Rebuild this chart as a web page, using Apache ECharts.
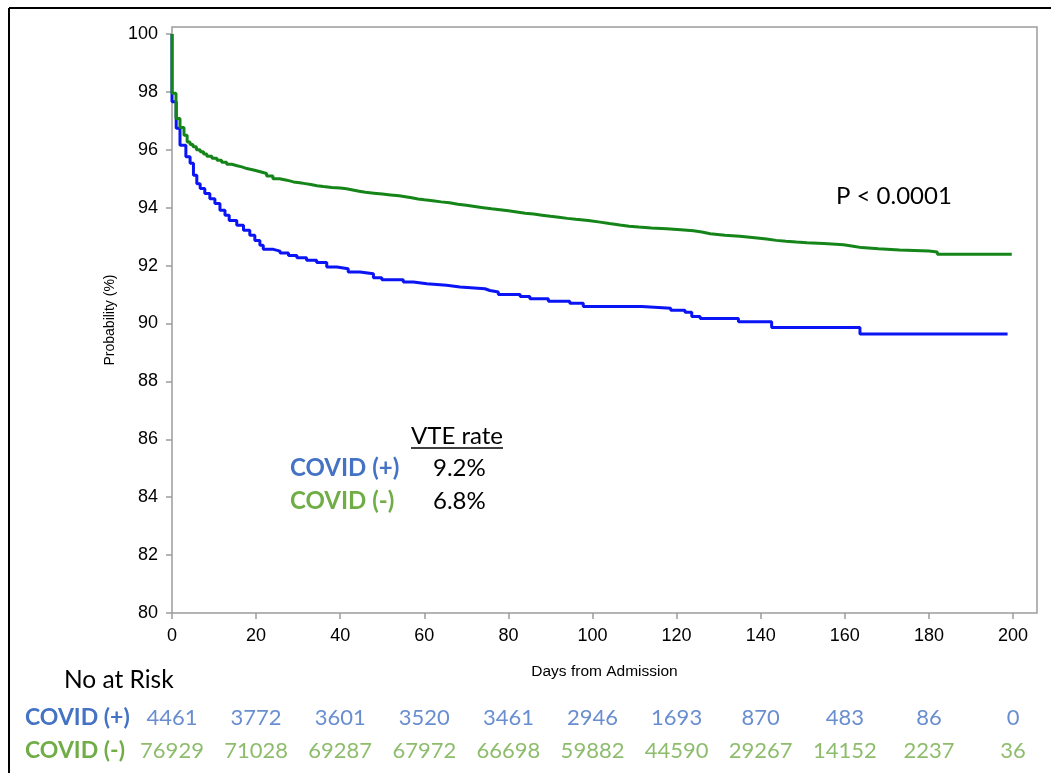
<!DOCTYPE html>
<html><head><meta charset="utf-8">
<script src="https://cdn.jsdelivr.net/npm/echarts@6/dist/echarts.min.js"></script>
<style>html,body{margin:0;padding:0;background:#fff}#c{width:1051px;height:773px}</style>
</head><body><div id="c"></div>
<script>
// ---- data ----
const xTicks = [0, 20, 40, 60, 80, 100, 120, 140, 160, 180, 200];
const yTicks = [80, 82, 84, 86, 88, 90, 92, 94, 96, 98, 100];
const groups = ['COVID (+)', 'COVID (-)'];
const vteRates = ['9.2%', '6.8%'];
const pValue = 'P < 0.0001';

// Kaplan-Meier curves: [day, survival %]
const covidPos = [
  [0,100],[0,97.66],[1.0,96.74],[1.9,96.16],[3.3,95.76],[4.3,95.53],[5.1,95.12],[5.9,94.83],
  [6.7,94.66],[7.8,94.49],[9.0,94.31],[10.2,94.14],[11.4,93.91],[12.6,93.74],[13.6,93.56],
  [15.4,93.39],[17.0,93.22],[18.5,93.05],[19.7,92.87],[20.9,92.7],[21.7,92.56],[24.1,92.5],
  [25.7,92.43],[27.7,92.35],[29.7,92.27],[32.0,92.18],[34.4,92.11],[36.8,91.95],[39.2,91.89],
  [41.9,91.78],[44.7,91.72],[47.9,91.58],[49.9,91.51],[55.0,91.43],[57.4,91.37],[60.6,91.32],
  [65.3,91.26],[68.5,91.2],[74.4,91.14],[75.6,91.09],[77.6,91.0],[82.8,90.93],[85.1,90.85],
  [89.5,90.77],[94.6,90.7],[97.8,90.59],[111.7,90.53],[118.6,90.46],[122.0,90.39],[123.6,90.24],
  [125.6,90.17],[134.7,90.06],[142.6,89.86],[163.6,89.64],[198.7,89.64]
];
const covidNeg = [
  [0,100],[0,97.95],[0.95,97.08],[1.9,96.77],[2.85,96.5],[3.6,96.27],[4.3,96.18],[5,96.1],
  [5.8,96.0],[6.7,95.93],[7.5,95.85],[8.3,95.78],[9.5,95.71],[10.7,95.64],[11.8,95.57],[13,95.5],
  [14.2,95.45],[15.5,95.41],[16.6,95.35],[17.8,95.3],[19.4,95.24],[21,95.18],[22.5,95.09],[24,95.0],
  [25.6,94.95],[27.3,94.89],[28.9,94.86],[30.4,94.83],[31.7,94.8],[33,94.76],[34.5,94.73],[36,94.7],
  [38,94.68],[40,94.65],[41.5,94.61],[43,94.57],[44.5,94.53],[46,94.5],[48,94.47],[50,94.44],
  [52,94.41],[54,94.38],[55.5,94.34],[57,94.3],[58.5,94.27],[60,94.24],[62,94.2],[64,94.17],
  [66,94.12],[68,94.08],[70,94.04],[72,94.0],[74,93.96],[76,93.93],[78,93.89],[80,93.85],
  [82,93.81],[84,93.78],[86,93.74],[88,93.7],[90,93.67],[92,93.63],[94,93.6],[96,93.56],
  [99,93.5],[101.8,93.45],[104,93.4],[106.5,93.36],[108.7,93.33],[111,93.3],[114,93.27],[117.6,93.24],
  [121,93.2],[124,93.16],[126,93.1],[128,93.05],[131.5,93.01],[135,92.97],[138,92.92],[141.4,92.87],
  [143.7,92.84],[146,92.81],[148.5,92.79],[151,92.76],[155,92.72],[159.7,92.67],[162,92.62],[164,92.58],
  [168,92.54],[173,92.5],[180,92.47],[182,92.39],[199.7,92.39]
];

// Number at risk
const riskDays = [0, 20, 40, 60, 80, 100, 120, 140, 160, 180, 200];
const riskPos = [4461, 3772, 3601, 3520, 3461, 2946, 1693, 870, 483, 86, 0];
const riskNeg = [76929, 71028, 69287, 67972, 66698, 59882, 44590, 29267, 14152, 2237, 36];

// ---- styles ----
const BLUE_TXT = '#4472C4', GREEN_TXT = '#70AD47';
const AX = 'Liberation Sans, Arial, sans-serif';
const CAL = 'Lato, sans-serif';
const X_MAX = 205.7, Y_MAX = 100.24;

const chart = echarts.init(document.getElementById('c'), null, {renderer: 'canvas'});

function riskData(vals, row) {
  return vals.map((v, i) => ({value: [riskDays[i], row], label: {formatter: String(v)}}));
}

chart.setOption({
  animation: false,
  backgroundColor: '#fff',
  grid: [
    {left: 172, right: 14, top: 27, bottom: 160, show: true, borderColor: '#9c9c9c', borderWidth: 1.5},
    {left: 172, right: 14, top: 701, height: 66}
  ],
  xAxis: [
    {
      type: 'value', gridIndex: 0, min: 0, max: X_MAX,
      name: 'Days from Admission', nameLocation: 'middle', nameGap: 51,
      nameTextStyle: {fontFamily: AX, fontSize: 15.5, color: '#000'},
      axisLine: {show: false},
      axisTick: {show: true, length: 6, customValues: xTicks, lineStyle: {color: '#9c9c9c', width: 1.5}},
      axisLabel: {customValues: xTicks, margin: 14, fontFamily: AX, fontSize: 18, color: '#000'},
      splitLine: {show: false}
    },
    {type: 'value', gridIndex: 1, min: 0, max: X_MAX, show: false}
  ],
  yAxis: [
    {
      type: 'value', gridIndex: 0, min: 80, max: Y_MAX,
      name: 'Probability (%)', nameLocation: 'middle', nameGap: 52, nameRotate: 90,
      nameTextStyle: {fontFamily: AX, fontSize: 14, color: '#000'},
      axisLine: {show: false},
      axisTick: {show: true, length: 6, customValues: yTicks, lineStyle: {color: '#9c9c9c', width: 1.5}},
      axisLabel: {customValues: yTicks, margin: 14, fontFamily: AX, fontSize: 18, color: '#000'},
      splitLine: {show: false}
    },
    {type: 'category', gridIndex: 1, data: ['COVID (-)', 'COVID (+)'], show: false}
  ],
  series: [
    {
      name: 'COVID (+)', type: 'line', step: 'end', xAxisIndex: 0, yAxisIndex: 0,
      data: covidPos, showSymbol: false, symbol: 'none',
      lineStyle: {color: '#0a14f5', width: 3}, z: 3
    },
    {
      name: 'COVID (-)', type: 'line', step: 'end', xAxisIndex: 0, yAxisIndex: 0,
      data: covidNeg, showSymbol: false, symbol: 'none',
      lineStyle: {color: '#15851a', width: 3}, z: 4
    },
    {
      type: 'scatter', xAxisIndex: 1, yAxisIndex: 1, symbolSize: 0,
      data: riskData(riskPos, 'COVID (+)'),
      label: {show: true, position: 'inside', fontFamily: CAL, fontSize: 22, color: BLUE_TXT}
    },
    {
      type: 'scatter', xAxisIndex: 1, yAxisIndex: 1, symbolSize: 0,
      data: riskData(riskNeg, 'COVID (-)'),
      label: {show: true, position: 'inside', fontFamily: CAL, fontSize: 22, color: GREEN_TXT}
    }
  ],
  graphic: [
    {type: 'line', shape: {x1: 9, y1: 8, x2: 1051, y2: 8}, style: {stroke: '#000', lineWidth: 2}},
    {type: 'line', shape: {x1: 9, y1: 8, x2: 9, y2: 773}, style: {stroke: '#000', lineWidth: 2}},
    {type: 'text', x: 836, y: 196, style: {text: pValue, font: '24px ' + CAL, fill: '#000', verticalAlign: 'middle'}},
    {type: 'text', x: 411, y: 436, style: {text: 'VTE rate', font: '24px ' + CAL, fill: '#000', verticalAlign: 'middle'}},
    {type: 'line', shape: {x1: 411, y1: 448, x2: 503, y2: 448}, style: {stroke: '#000', lineWidth: 1.5}},
    {type: 'text', x: 290, y: 468, style: {text: groups[0], font: 'bold 24px ' + CAL, fill: BLUE_TXT, verticalAlign: 'middle'}},
    {type: 'text', x: 433, y: 468, style: {text: vteRates[0], font: '24px ' + CAL, fill: '#000', verticalAlign: 'middle'}},
    {type: 'text', x: 290, y: 501, style: {text: groups[1], font: 'bold 24px ' + CAL, fill: GREEN_TXT, verticalAlign: 'middle'}},
    {type: 'text', x: 433, y: 501, style: {text: vteRates[1], font: '24px ' + CAL, fill: '#000', verticalAlign: 'middle'}},
    {type: 'text', x: 64, y: 680, style: {text: 'No at Risk', font: '24.5px ' + CAL, fill: '#000', verticalAlign: 'middle'}},
    {type: 'text', x: 25, y: 718, style: {text: groups[0], font: 'bold 23px ' + CAL, fill: BLUE_TXT, verticalAlign: 'middle'}},
    {type: 'text', x: 25, y: 751, style: {text: groups[1], font: 'bold 23px ' + CAL, fill: GREEN_TXT, verticalAlign: 'middle'}}
  ]
});
</script>
</body></html>
